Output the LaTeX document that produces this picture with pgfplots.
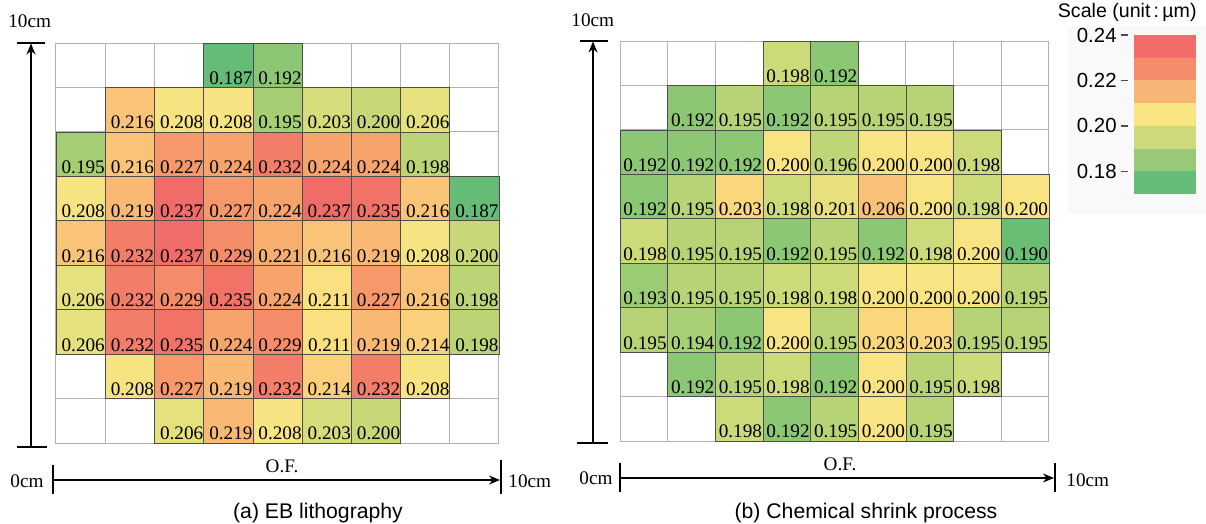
\documentclass[border=0pt]{standalone}
\usepackage{pgfplots}
\pgfplotsset{compat=1.18}
\usepackage{fontspec}
\setmainfont{Liberation Serif}
\newfontfamily\sans{Liberation Sans}
\usetikzlibrary{arrows.meta}

% colour scale bands
\definecolor{cbA}{RGB}{242,108,106}
\definecolor{cbB}{RGB}{245,140,108}
\definecolor{cbC}{RGB}{248,182,118}
\definecolor{cbD}{RGB}{249,229,130}
\definecolor{cbE}{RGB}{205,217,124}
\definecolor{cbF}{RGB}{152,200,120}
\definecolor{cbG}{RGB}{99,188,120}
% cell colours, panel (a)
\definecolor{a187}{RGB}{100,188,118}
\definecolor{a192}{RGB}{138,198,116}
\definecolor{a195}{RGB}{165,205,116}
\definecolor{a198}{RGB}{186,212,118}
\definecolor{a200}{RGB}{200,216,120}
\definecolor{a203}{RGB}{213,220,123}
\definecolor{a206}{RGB}{228,225,126}
\definecolor{a208}{RGB}{246,228,130}
\definecolor{a211}{RGB}{250,224,129}
\definecolor{a214}{RGB}{250,208,124}
\definecolor{a216}{RGB}{250,196,120}
\definecolor{a219}{RGB}{249,184,115}
\definecolor{a221}{RGB}{248,174,111}
\definecolor{a224}{RGB}{247,163,108}
\definecolor{a227}{RGB}{246,152,106}
\definecolor{a229}{RGB}{244,140,105}
\definecolor{a232}{RGB}{242,125,104}
\definecolor{a235}{RGB}{241,115,104}
\definecolor{a237}{RGB}{240,108,104}
% cell colours, panel (b)
\definecolor{b190}{RGB}{105,190,115}
\definecolor{b192}{RGB}{140,200,115}
\definecolor{b193}{RGB}{155,204,116}
\definecolor{b194}{RGB}{168,208,117}
\definecolor{b195}{RGB}{182,212,118}
\definecolor{b196}{RGB}{190,214,120}
\definecolor{b198}{RGB}{205,218,122}
\definecolor{b200}{RGB}{248,228,130}
\definecolor{b201}{RGB}{232,224,127}
\definecolor{b203}{RGB}{250,214,125}
\definecolor{b206}{RGB}{248,192,120}

% one cell: x0, x1, y0, y1, colour
\newcommand\C[5]{\addplot[draw=black!70, line width=0.35pt, fill=#5] coordinates {(#1,#3) (#2,#3) (#2,#4) (#1,#4)} -- cycle;}

\pgfplotsset{
  waferaxis/.style={
    scale only axis, height=200pt,
    xmin=0, xmax=9, ymin=0, ymax=9, y dir=reverse,
    xtick={0,...,9}, ytick={0,...,9},
    xticklabels={}, yticklabels={}, major tick length=0pt,
    grid=major, major grid style={draw=black!30, line width=0.5pt},
    axis line style={draw=black!30, line width=0.5pt},
    clip=false,
  },
  celllabels/.style={draw=none, nodes near coords, point meta=explicit symbolic,
    every node near coord/.append style={anchor=base, inner sep=0pt, text=black,
      font=\fontsize{9.6}{11}\selectfont, yshift=-9.6pt}},
}

\begin{document}
\begin{tikzpicture}
\path[use as bounding box] (0,0) rectangle (603pt,-262pt);

% panel (a)
\begin{axis}[waferaxis, at={(28pt,-221.5pt)}, anchor=south west, width=221.5pt]
\C{3}{4}{0}{1}{a187} \C{4}{5}{0}{1}{a192}
\C{1}{2}{1}{2}{a216} \C{2}{3}{1}{2}{a208} \C{3}{4}{1}{2}{a208} \C{4}{5}{1}{2}{a195} \C{5}{6}{1}{2}{a203} \C{6}{7}{1}{2}{a200} \C{7}{8}{1}{2}{a206}
\C{0}{1}{2}{3}{a195} \C{1}{2}{2}{3}{a216} \C{2}{3}{2}{3}{a227} \C{3}{4}{2}{3}{a224} \C{4}{5}{2}{3}{a232} \C{5}{6}{2}{3}{a224} \C{6}{7}{2}{3}{a224} \C{7}{8}{2}{3}{a198}
\C{0}{1}{3}{4}{a208} \C{1}{2}{3}{4}{a219} \C{2}{3}{3}{4}{a237} \C{3}{4}{3}{4}{a227} \C{4}{5}{3}{4}{a224} \C{5}{6}{3}{4}{a237} \C{6}{7}{3}{4}{a235} \C{7}{8}{3}{4}{a216} \C{8}{9}{3}{4}{a187}
\C{0}{1}{4}{5}{a216} \C{1}{2}{4}{5}{a232} \C{2}{3}{4}{5}{a237} \C{3}{4}{4}{5}{a229} \C{4}{5}{4}{5}{a221} \C{5}{6}{4}{5}{a216} \C{6}{7}{4}{5}{a219} \C{7}{8}{4}{5}{a208} \C{8}{9}{4}{5}{a200}
\C{0}{1}{5}{6}{a206} \C{1}{2}{5}{6}{a232} \C{2}{3}{5}{6}{a229} \C{3}{4}{5}{6}{a235} \C{4}{5}{5}{6}{a224} \C{5}{6}{5}{6}{a211} \C{6}{7}{5}{6}{a227} \C{7}{8}{5}{6}{a216} \C{8}{9}{5}{6}{a198}
\C{0}{1}{6}{7}{a206} \C{1}{2}{6}{7}{a232} \C{2}{3}{6}{7}{a235} \C{3}{4}{6}{7}{a224} \C{4}{5}{6}{7}{a229} \C{5}{6}{6}{7}{a211} \C{6}{7}{6}{7}{a219} \C{7}{8}{6}{7}{a214} \C{8}{9}{6}{7}{a198}
\C{1}{2}{7}{8}{a208} \C{2}{3}{7}{8}{a227} \C{3}{4}{7}{8}{a219} \C{4}{5}{7}{8}{a232} \C{5}{6}{7}{8}{a214} \C{6}{7}{7}{8}{a232} \C{7}{8}{7}{8}{a208}
\C{2}{3}{8}{9}{a206} \C{3}{4}{8}{9}{a219} \C{4}{5}{8}{9}{a208} \C{5}{6}{8}{9}{a203} \C{6}{7}{8}{9}{a200}
\addplot[celllabels, every node near coord/.append style={xshift=1.3pt}] coordinates {
(3.5,0.5) [0.187] (4.5,0.5) [0.192]
(1.5,1.5) [0.216] (2.5,1.5) [0.208] (3.5,1.5) [0.208] (4.5,1.5) [0.195] (5.5,1.5) [0.203] (6.5,1.5) [0.200] (7.5,1.5) [0.206]
(0.5,2.5) [0.195] (1.5,2.5) [0.216] (2.5,2.5) [0.227] (3.5,2.5) [0.224] (4.5,2.5) [0.232] (5.5,2.5) [0.224] (6.5,2.5) [0.224] (7.5,2.5) [0.198]
(0.5,3.5) [0.208] (1.5,3.5) [0.219] (2.5,3.5) [0.237] (3.5,3.5) [0.227] (4.5,3.5) [0.224] (5.5,3.5) [0.237] (6.5,3.5) [0.235] (7.5,3.5) [0.216] (8.5,3.5) [0.187]
(0.5,4.5) [0.216] (1.5,4.5) [0.232] (2.5,4.5) [0.237] (3.5,4.5) [0.229] (4.5,4.5) [0.221] (5.5,4.5) [0.216] (6.5,4.5) [0.219] (7.5,4.5) [0.208] (8.5,4.5) [0.200]
(0.5,5.5) [0.206] (1.5,5.5) [0.232] (2.5,5.5) [0.229] (3.5,5.5) [0.235] (4.5,5.5) [0.224] (5.5,5.5) [0.211] (6.5,5.5) [0.227] (7.5,5.5) [0.216] (8.5,5.5) [0.198]
(0.5,6.5) [0.206] (1.5,6.5) [0.232] (2.5,6.5) [0.235] (3.5,6.5) [0.224] (4.5,6.5) [0.229] (5.5,6.5) [0.211] (6.5,6.5) [0.219] (7.5,6.5) [0.214] (8.5,6.5) [0.198]
(1.5,7.5) [0.208] (2.5,7.5) [0.227] (3.5,7.5) [0.219] (4.5,7.5) [0.232] (5.5,7.5) [0.214] (6.5,7.5) [0.232] (7.5,7.5) [0.208]
(2.5,8.5) [0.206] (3.5,8.5) [0.219] (4.5,8.5) [0.208] (5.5,8.5) [0.203] (6.5,8.5) [0.200]
};
\end{axis}

% panel (b)
\begin{axis}[waferaxis, at={(310pt,-220.5pt)}, anchor=south west, width=214.5pt]
\C{3}{4}{0}{1}{b198} \C{4}{5}{0}{1}{b192}
\C{1}{2}{1}{2}{b192} \C{2}{3}{1}{2}{b195} \C{3}{4}{1}{2}{b192} \C{4}{5}{1}{2}{b195} \C{5}{6}{1}{2}{b195} \C{6}{7}{1}{2}{b195}
\C{0}{1}{2}{3}{b192} \C{1}{2}{2}{3}{b192} \C{2}{3}{2}{3}{b192} \C{3}{4}{2}{3}{b200} \C{4}{5}{2}{3}{b196} \C{5}{6}{2}{3}{b200} \C{6}{7}{2}{3}{b200} \C{7}{8}{2}{3}{b198}
\C{0}{1}{3}{4}{b192} \C{1}{2}{3}{4}{b195} \C{2}{3}{3}{4}{b203} \C{3}{4}{3}{4}{b198} \C{4}{5}{3}{4}{b201} \C{5}{6}{3}{4}{b206} \C{6}{7}{3}{4}{b200} \C{7}{8}{3}{4}{b198} \C{8}{9}{3}{4}{b200}
\C{0}{1}{4}{5}{b198} \C{1}{2}{4}{5}{b195} \C{2}{3}{4}{5}{b195} \C{3}{4}{4}{5}{b192} \C{4}{5}{4}{5}{b195} \C{5}{6}{4}{5}{b192} \C{6}{7}{4}{5}{b198} \C{7}{8}{4}{5}{b200} \C{8}{9}{4}{5}{b190}
\C{0}{1}{5}{6}{b193} \C{1}{2}{5}{6}{b195} \C{2}{3}{5}{6}{b195} \C{3}{4}{5}{6}{b198} \C{4}{5}{5}{6}{b198} \C{5}{6}{5}{6}{b200} \C{6}{7}{5}{6}{b200} \C{7}{8}{5}{6}{b200} \C{8}{9}{5}{6}{b195}
\C{0}{1}{6}{7}{b195} \C{1}{2}{6}{7}{b194} \C{2}{3}{6}{7}{b192} \C{3}{4}{6}{7}{b200} \C{4}{5}{6}{7}{b195} \C{5}{6}{6}{7}{b203} \C{6}{7}{6}{7}{b203} \C{7}{8}{6}{7}{b195} \C{8}{9}{6}{7}{b195}
\C{1}{2}{7}{8}{b192} \C{2}{3}{7}{8}{b195} \C{3}{4}{7}{8}{b198} \C{4}{5}{7}{8}{b192} \C{5}{6}{7}{8}{b200} \C{6}{7}{7}{8}{b195} \C{7}{8}{7}{8}{b198}
\C{2}{3}{8}{9}{b198} \C{3}{4}{8}{9}{b192} \C{4}{5}{8}{9}{b195} \C{5}{6}{8}{9}{b200} \C{6}{7}{8}{9}{b195}
\addplot[celllabels, every node near coord/.append style={xshift=0.6pt}] coordinates {
(3.5,0.5) [0.198] (4.5,0.5) [0.192]
(1.5,1.5) [0.192] (2.5,1.5) [0.195] (3.5,1.5) [0.192] (4.5,1.5) [0.195] (5.5,1.5) [0.195] (6.5,1.5) [0.195]
(0.5,2.5) [0.192] (1.5,2.5) [0.192] (2.5,2.5) [0.192] (3.5,2.5) [0.200] (4.5,2.5) [0.196] (5.5,2.5) [0.200] (6.5,2.5) [0.200] (7.5,2.5) [0.198]
(0.5,3.5) [0.192] (1.5,3.5) [0.195] (2.5,3.5) [0.203] (3.5,3.5) [0.198] (4.5,3.5) [0.201] (5.5,3.5) [0.206] (6.5,3.5) [0.200] (7.5,3.5) [0.198] (8.5,3.5) [0.200]
(0.5,4.5) [0.198] (1.5,4.5) [0.195] (2.5,4.5) [0.195] (3.5,4.5) [0.192] (4.5,4.5) [0.195] (5.5,4.5) [0.192] (6.5,4.5) [0.198] (7.5,4.5) [0.200] (8.5,4.5) [0.190]
(0.5,5.5) [0.193] (1.5,5.5) [0.195] (2.5,5.5) [0.195] (3.5,5.5) [0.198] (4.5,5.5) [0.198] (5.5,5.5) [0.200] (6.5,5.5) [0.200] (7.5,5.5) [0.200] (8.5,5.5) [0.195]
(0.5,6.5) [0.195] (1.5,6.5) [0.194] (2.5,6.5) [0.192] (3.5,6.5) [0.200] (4.5,6.5) [0.195] (5.5,6.5) [0.203] (6.5,6.5) [0.203] (7.5,6.5) [0.195] (8.5,6.5) [0.195]
(1.5,7.5) [0.192] (2.5,7.5) [0.195] (3.5,7.5) [0.198] (4.5,7.5) [0.192] (5.5,7.5) [0.200] (6.5,7.5) [0.195] (7.5,7.5) [0.198]
(2.5,8.5) [0.198] (3.5,8.5) [0.192] (4.5,8.5) [0.195] (5.5,8.5) [0.200] (6.5,8.5) [0.195]
};
\end{axis}

% colour scale
\fill[black!2.5] (534pt,-13pt) rectangle (603pt,-107pt);
\begin{axis}[at={(564pt,-97pt)}, anchor=south west, scale only axis,
  width=34pt, height=79.5pt, xmin=0, xmax=68, ymin=0.17, ymax=0.24,
  hide x axis, axis y line*=left, y axis line style={draw=none},
  ytick={0.18,0.20,0.22,0.24}, major tick length=0pt,
  yticklabel style={font=\sans\fontsize{10.2}{12}\selectfont, inner sep=0pt, xshift=-5.5pt,
    /pgf/number format/fixed, /pgf/number format/fixed zerofill,
    /pgf/number format/precision=2, /pgf/number format/assume math mode=true},
  clip=false]
\addplot[draw=none, fill=cbG] coordinates {(6,0.17) (68,0.17) (68,0.18) (6,0.18)} -- cycle;
\addplot[draw=none, fill=cbF] coordinates {(6,0.18) (68,0.18) (68,0.19) (6,0.19)} -- cycle;
\addplot[draw=none, fill=cbE] coordinates {(6,0.19) (68,0.19) (68,0.20) (6,0.20)} -- cycle;
\addplot[draw=none, fill=cbD] coordinates {(6,0.20) (68,0.20) (68,0.21) (6,0.21)} -- cycle;
\addplot[draw=none, fill=cbC] coordinates {(6,0.21) (68,0.21) (68,0.22) (6,0.22)} -- cycle;
\addplot[draw=none, fill=cbB] coordinates {(6,0.22) (68,0.22) (68,0.23) (6,0.23)} -- cycle;
\addplot[draw=none, fill=cbA] coordinates {(6,0.23) (68,0.23) (68,0.24) (6,0.24)} -- cycle;
\end{axis}

\begin{scope}[x=0.5pt, y=-0.5pt]
  \tikzset{myLbl/.style={inner sep=0pt, font=\fontsize{9.6}{11}\selectfont},
           myCap/.style={inner sep=0pt, font=\sans\fontsize{10.6}{12}\selectfont},
           myBar/.style={line width=0.65pt},
           myArr/.style={line width=0.65pt, -{Stealth[length=5.5pt, width=4.5pt]}}}
  % colour-scale tick dashes
  \draw[black!70, line width=0.75pt] (1121,35.2) -- (1128,35.2);
  \draw[black!70, line width=0.75pt] (1121,80.6) -- (1128,80.6);
  \draw[black!70, line width=0.75pt] (1121,126.0) -- (1128,126.0);
  \draw[black!70, line width=0.75pt] (1121,171.4) -- (1128,171.4);
  % panel (a)
  \node[myLbl, anchor=base west] at (8,28) {10cm};
  \draw[myBar] (17,43) -- (45,43);
  \draw[myBar] (17,447) -- (47,447);
  \draw[myArr] (31,447) -- (31,43.5);
  \draw[myBar] (53,465) -- (53,494);
  \draw[myBar] (501,460) -- (501,494);
  \draw[myArr] (53,480) -- (500,480);
  \node[myLbl, anchor=base west] at (10,487) {0cm};
  \node[myLbl, anchor=base] at (282,472) {O.F.};
  \node[myLbl, anchor=base west] at (508,487) {10cm};
  \node[myCap, anchor=base] at (318,518) {(a) EB lithography};
  % panel (b)
  \node[myLbl, anchor=base west] at (571,27) {10cm};
  \draw[myBar] (580,41) -- (608,41);
  \draw[myBar] (577,443) -- (608,443);
  \draw[myArr] (593,443) -- (593,41.5);
  \draw[myBar] (620,463) -- (620,492);
  \draw[myBar] (1055,463) -- (1055,492);
  \draw[myArr] (620,478) -- (1054,478);
  \node[myLbl, anchor=base west] at (579,484) {0cm};
  \node[myLbl, anchor=base] at (840,470) {O.F.};
  \node[myLbl, anchor=base west] at (1066,486) {10cm};
  \node[myCap, anchor=base] at (866,518) {(b) Chemical shrink process};
  % scale title
  \node[inner sep=0pt, font=\sans\fontsize{9.8}{12}\selectfont, anchor=base east] at (1197,18) {Scale (unit\,:\,µm)};
\end{scope}
\end{tikzpicture}
\end{document}
